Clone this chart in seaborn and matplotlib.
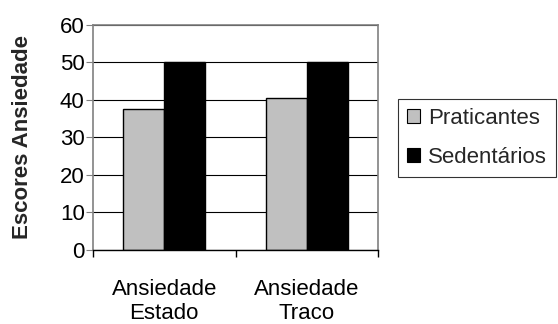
import pandas as pd
import numpy as np
import matplotlib
matplotlib.use("Agg")
import matplotlib.pyplot as plt
import seaborn as sns

categorias = ["Ansiedade\nEstado", "Ansiedade\nTraco"]
grupos = ["Praticantes", "Sedentários"]
praticantes = [37.6, 40.5]
sedentarios = [50, 50]
cores = ["#C0C0C0", "#000000"]

df = pd.DataFrame({
    "Categoria": categorias * 2,
    "Grupo": [grupos[0]] * len(categorias) + [grupos[1]] * len(categorias),
    "Escore": praticantes + sedentarios,
})

sns.set_style("white")
plt.rcParams["font.family"] = ["Liberation Sans", "DejaVu Sans"]
plt.rcParams["font.size"] = 16

fig = plt.figure(figsize=(5.58, 3.24), dpi=100)
ax = fig.add_axes([93 / 558, 1 - 249.5 / 324, 285 / 558, 224.5 / 324])

sns.barplot(data=df, x="Categoria", y="Escore", hue="Grupo", order=categorias,
            hue_order=grupos, palette=cores, width=0.575, edgecolor="black",
            linewidth=1.0, ax=ax, legend=False)

ax.set_xlim(-0.5, 1.5)
ax.set_ylim(0, 60)
ax.set_yticks(range(0, 61, 10))
ax.set_axisbelow(True)
ax.yaxis.grid(True, color="black", linewidth=0.8)
ax.xaxis.grid(False)

for s in ["left", "top", "right"]:
    ax.spines[s].set_color("#808080")
    ax.spines[s].set_linewidth(1.2)
ax.spines["bottom"].set_color("black")
ax.spines["bottom"].set_linewidth(1.0)

ax.tick_params(axis="y", direction="out", length=5, width=0.8, color="#808080",
               left=True, pad=1, labelcolor="black")
ax.tick_params(axis="x", which="major", length=0, pad=21, labelcolor="black")
ax.set_xticks([-0.5, 0.5, 1.5], minor=True)
ax.tick_params(axis="x", which="minor", direction="out", length=5, width=1.0,
               color="black", bottom=True)
for lbl in ax.get_xticklabels():
    lbl.set_linespacing(1.2)

ax.set_xlabel("")
ax.set_ylabel("Escores Ansiedade", fontweight="bold")
ax.yaxis.set_label_coords(-0.21, 0.5)

handles = [plt.Rectangle((0, 0), 1, 1, facecolor=c, edgecolor="black", linewidth=0.8)
           for c in cores]
leg = fig.legend(handles, grupos, loc="upper left",
                 bbox_to_anchor=(398 / 558, 1 - 99 / 324),
                 bbox_transform=fig.transFigure, frameon=True, fancybox=False,
                 edgecolor="black", handlelength=0.6, handleheight=0.6,
                 handletextpad=0.35, borderpad=0.4, labelspacing=0.8,
                 borderaxespad=0)
leg.get_frame().set_linewidth(0.8)

plt.savefig("out.png", dpi=100)
